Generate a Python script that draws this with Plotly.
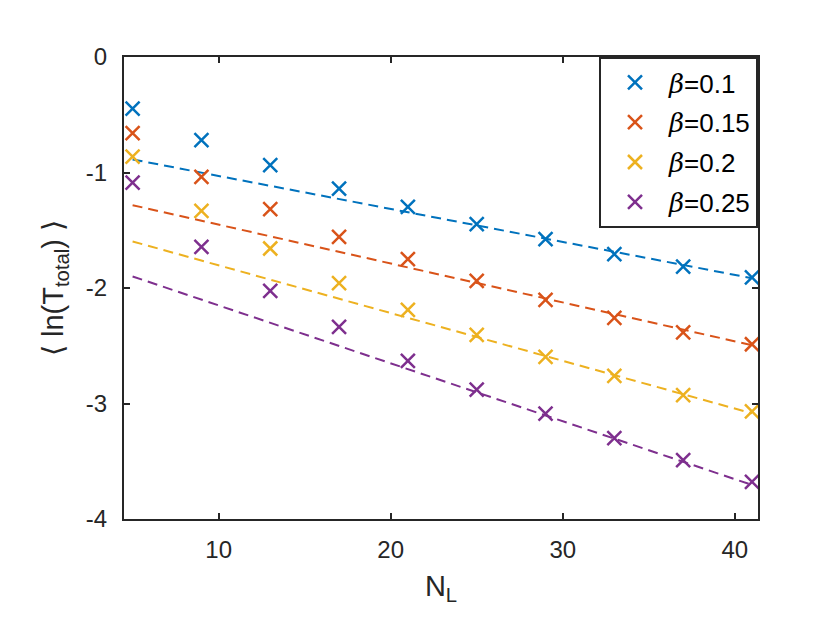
import plotly.graph_objects as go

# N_L values (same for every beta)
n_l = [5, 9, 13, 17, 21, 25, 29, 33, 37, 41]

# <ln(T_total)>
beta_labels = ["0.1", "0.15", "0.2", "0.25"]
vals_01 = [-0.446, -0.72, -0.937, -1.139, -1.297, -1.447, -1.577, -1.707, -1.814, -1.909]
vals_015 = [-0.66, -1.037, -1.318, -1.557, -1.75, -1.938, -2.102, -2.258, -2.385, -2.487]
vals_02 = [-0.862, -1.332, -1.658, -1.958, -2.19, -2.405, -2.596, -2.76, -2.928, -3.069]
vals_025 = [-1.087, -1.643, -2.025, -2.336, -2.63, -2.88, -3.087, -3.30, -3.49, -3.678]

# dashed fit lines, drawn from N_L=5 to N_L=41
fit_x = [5, 41]
fit_01 = [-0.887, -1.915]
fit_015 = [-1.283, -2.495]
fit_02 = [-1.597, -3.085]
fit_025 = [-1.90, -3.705]

y_ticks = [0, -1, -2, -3, -4]
y_tick_text = ["0", "-1", "-2", "-3", "-4"]
x_ticks = [10, 20, 30, 40]

colors = ["#0072BD", "#D95319", "#EDB120", "#7E2F8E"]
series = [vals_01, vals_015, vals_02, vals_025]
fits = [fit_01, fit_015, fit_02, fit_025]

fig = go.Figure()

# fit lines first so the crosses sit on top
for f, c in zip(fits, colors):
    fig.add_trace(go.Scatter(
        x=fit_x, y=f, mode="lines",
        line=dict(color=c, width=2, dash="10px,6px"),
        showlegend=False, hoverinfo="skip"
    ))

beta = '<span style="font-family:DejaVu Serif"><i>β</i></span>'
for i, (s, c, lab) in enumerate(zip(series, colors, beta_labels)):
    fig.add_trace(go.Scatter(
        x=n_l, y=s, mode="markers",
        name=beta + "=" + lab,
        legendgroup="g%d" % i,
        marker=dict(symbol="x-thin-open", size=14, color=c,
                    line=dict(color=c, width=2.5))
    ))

axis_col = "#262626"
tick_font = dict(family="Liberation Sans, Arial, sans-serif", size=24, color=axis_col)
fig.update_layout(
    width=813, height=635,
    margin=dict(l=116, r=63, t=49, b=124),
    paper_bgcolor="white", plot_bgcolor="white",
    font=dict(family="Liberation Sans, Arial, sans-serif", size=24, color=axis_col),
    xaxis=dict(
        range=[4.5, 41.35], tickvals=x_ticks, tickfont=tick_font,
        ticks="inside", ticklen=6, tickwidth=2, tickcolor=axis_col,
        ticklabelstandoff=8,
        showline=True, linecolor=axis_col, linewidth=2, mirror="ticks",
        showgrid=False, zeroline=False,
        title=dict(text="N<sub>L</sub>", standoff=14)
    ),
    yaxis=dict(
        range=[-4, 0], tickvals=y_ticks, ticktext=y_tick_text, tickfont=tick_font,
        ticks="inside", ticklen=6, tickwidth=2, tickcolor=axis_col,
        ticklabelstandoff=10,
        showline=True, linecolor=axis_col, linewidth=2, mirror="ticks",
        showgrid=False, zeroline=False,
        title=dict(text="⟨ ln(T<sub>total</sub>) ⟩", standoff=14)
    ),
    legend=dict(
        x=1, y=1, xanchor="right", yanchor="top",
        bgcolor="white", bordercolor=axis_col, borderwidth=2,
        font=dict(size=26, color="black"),
        itemwidth=58, tracegroupgap=3, traceorder="grouped"
    ),
)

fig.write_html("out.html")
